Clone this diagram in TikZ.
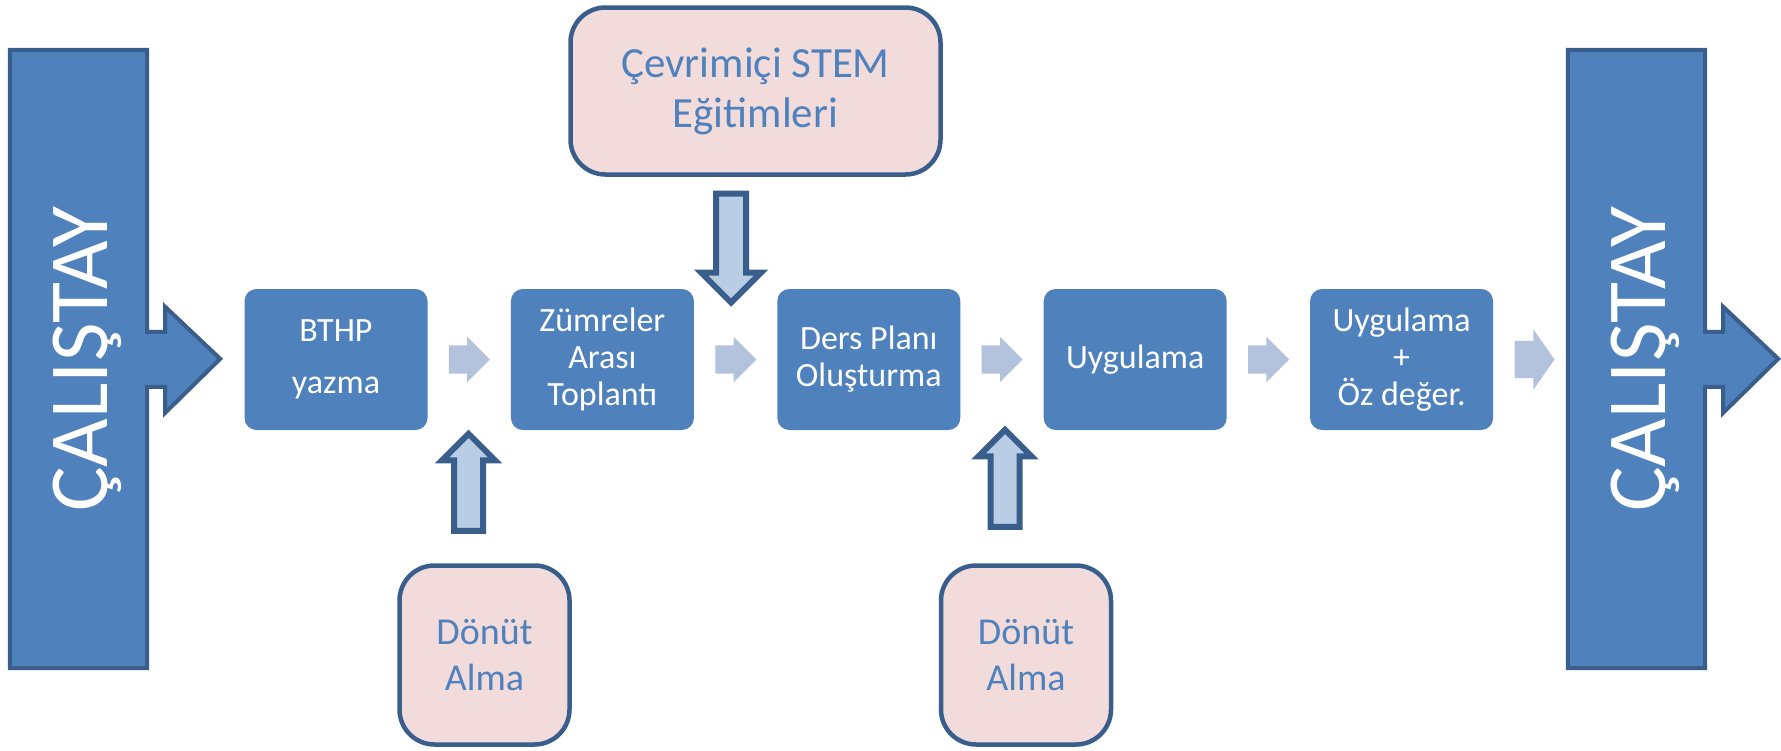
\documentclass[tikz,border=0pt]{standalone}
\usepackage{fontspec}
\setmainfont{Carlito}
\usetikzlibrary{positioning,shapes.arrows}
\definecolor{boxblue}{HTML}{4F81BD}
\definecolor{edgeblue}{HTML}{3A5E8C}
\definecolor{paleblue}{HTML}{B3C2DD}
\definecolor{shaftblue}{HTML}{B9CDE5}
\definecolor{pinkfill}{HTML}{F2DCDB}
\begin{document}
\begin{tikzpicture}[x=1pt,y=-1pt,
  stepbox/.style={fill=boxblue,rounded corners=12pt,minimum width=183pt,
    minimum height=141pt,align=center,text=white,inner sep=0,
    font=\fontsize{34}{37}\selectfont},
  inputbox/.style={draw=edgeblue,line width=4.5pt,fill=pinkfill,
    rounded corners=35pt,align=center,text=boxblue,inner sep=0},
  flow/.style={single arrow,fill=paleblue,minimum height=41pt,
    inner xsep=0,inner ysep=14pt,single arrow head extend=8.5pt},
  feed/.style={single arrow,draw=edgeblue,line width=6pt,fill=shaftblue,
    inner xsep=0,line join=miter},
  bar/.style={fill=boxblue,draw=edgeblue,line width=4pt,line join=miter},
  bartext/.style={rotate=90,anchor=base,text=white,
    font=\fontsize{84}{84}\selectfont}]
\useasboundingbox (0,0) rectangle (1781,750);
\path
  (78.5,359) node [minimum width=137pt,minimum height=618pt] (lbar) {}
  (1636.5,359) node [minimum width=137pt,minimum height=618pt] (rbar) {};
\draw [bar] (lbar.north west) -- (lbar.north east) -- ++(0,282) -- ++(18,0)
  -- ++(0,-25) -- ++(55,52) -- ++(-55,54) -- ++(0,-26) -- ++(-18,0)
  -- (lbar.south east) -- (lbar.south west) -- cycle;
\draw [bar] (rbar.north west) -- (rbar.north east) -- ++(0,282) -- ++(18,0)
  -- ++(0,-25) -- ++(55,52) -- ++(-55,54) -- ++(0,-26) -- ++(-18,0)
  -- (rbar.south east) -- (rbar.south west) -- cycle;
\node [bartext] (ltitle) at (107,359) {ÇALIŞTAY};
\node [bartext] (rtitle) at (1665,359) {ÇALIŞTAY};
\path
  (336,359.5) node [stepbox] (bthp) {BTHP\\[15pt]yazma}
  node [stepbox,right=83pt of bthp] (zumre) {Zümreler\\Arası\\Toplantı}
  node [stepbox,right=83pt of zumre] (plan) {Ders Planı\\Oluşturma}
  node [stepbox,right=83pt of plan] (uyg) {Uygulama}
  node [stepbox,right=83pt of uyg] (uygoz) {Uygulama\\+\\Öz değer.};
\path
  node [flow,right=21pt of bthp] (f1) {}
  node [flow,right=21pt of zumre] (f2) {}
  node [flow,right=21pt of plan] (f3) {}
  node [flow,right=21pt of uyg] (f4) {}
  node [flow,right=21pt of uygoz,minimum height=40pt,inner ysep=18.5pt,
    single arrow head extend=11.5pt,single arrow tip angle=110] (f5) {};
\node [inputbox,minimum width=370pt,minimum height=167pt,
  font=\fontsize{43}{50}\selectfont] (stem) at (755.5,91)
  {Çevrimiçi STEM\\Eğitimleri};
\node [inputbox,minimum width=170pt,minimum height=179pt,
  font=\fontsize{38}{46}\selectfont] (don1) at (484.5,655) {Dönüt\\Alma};
\node [inputbox,minimum width=170pt,minimum height=179pt,
  font=\fontsize{38}{46}\selectfont] (don2) at (1026,655) {Dönüt\\Alma};
\node [feed,rotate=-90,minimum height=109pt,inner ysep=12pt,
  single arrow head extend=15pt] (fstem) at (731,240.5) {};
\node [feed,rotate=90,minimum height=97pt,inner ysep=11.5pt,
  single arrow head extend=12pt] (fdon1) at (468.5,489.5) {};
\node [feed,rotate=90,minimum height=97pt,inner ysep=11.5pt,
  single arrow head extend=12pt] (fdon2) at (1005,485.5) {};
\end{tikzpicture}
\end{document}
